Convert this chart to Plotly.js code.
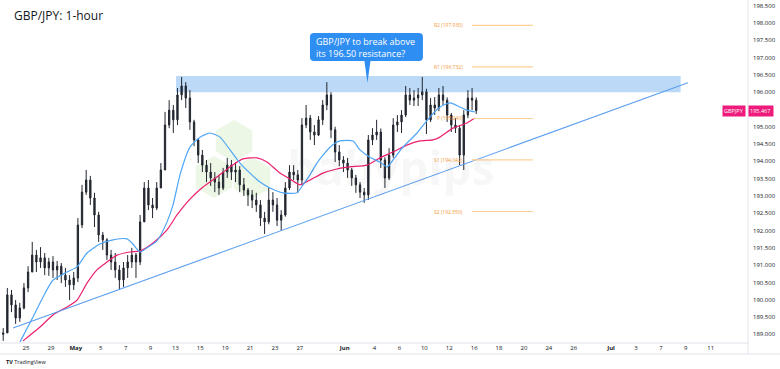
<!DOCTYPE html>
<html>
<head>
<meta charset="utf-8">
<script src="https://cdn.plot.ly/plotly-3.0.1.min.js"></script>
<style>
html,body{margin:0;padding:0;background:#fff;}
#chart{width:780px;height:369px;}
</style>
</head>
<body>
<div id="chart"></div>
<script>
// ---- DATA (GBP/JPY, 8-hour slices of the 1-hour chart) ----
// x axis: trading-day index (0 = Apr 25), weekends removed
const candleStartDay = -2;      // first candle starts on Apr 23
const candlesPerDay = 3;
const firstOpen = 189.00;
const closes = [189.04,190.14,189.85,189.47,189.76,190.34,190.80,191.29,191.09,191.21,
190.92,191.09,190.86,190.97,190.71,190.57,190.43,190.63,192.16,193.11,
193.46,192.94,192.45,191.87,191.73,191.29,191.09,190.86,190.57,190.92,
191.09,191.29,191.09,192.25,193.23,192.74,192.65,193.23,193.75,195.05,
195.48,195.20,195.92,196.18,195.83,195.14,194.62,194.18,193.89,193.69,
193.52,193.40,193.23,193.69,193.89,193.69,193.75,193.32,193.17,193.03,
192.88,192.74,192.36,192.25,192.88,192.74,192.30,192.45,193.23,193.69,
193.61,193.46,195.05,195.25,194.85,194.76,195.20,195.63,195.92,194.91,
194.27,194.04,193.95,193.75,193.52,193.32,193.11,193.03,194.62,194.76,
194.85,194.04,193.52,194.18,195.05,195.14,195.34,195.92,195.77,195.83,
195.92,196.01,195.20,195.63,195.54,195.92,195.77,195.34,195.05,194.96,
194.18,195.34,195.83,195.77,195.467];
const highs = [189.18,190.34,190.28,189.99,189.91,190.48,190.97,191.67,191.44,191.52,
191.35,191.21,191.26,191.12,191.06,190.92,190.71,190.80,192.36,193.32,
193.75,193.58,193.09,192.54,191.96,191.78,191.44,191.35,191.00,191.09,
191.29,191.50,191.35,192.45,193.40,193.46,192.94,193.40,193.95,195.43,
195.77,195.63,196.12,196.44,196.29,196.06,195.20,194.67,194.33,194.04,
193.95,193.69,193.61,193.81,194.10,194.04,193.98,193.86,193.52,193.23,
193.17,193.09,192.88,192.54,193.23,193.11,192.94,192.59,193.40,193.89,
193.89,193.75,195.25,195.63,195.34,195.05,195.31,195.77,196.29,196.00,
195.00,194.47,194.15,194.10,193.81,193.61,193.40,193.23,194.76,194.96,
195.20,194.95,194.12,194.38,195.25,195.34,195.48,196.18,196.12,196.06,
196.12,196.44,196.10,195.83,195.86,196.12,196.18,195.85,195.40,195.25,
195.05,195.48,196.06,196.12,195.85];
const lows = [188.81,189.04,189.64,189.30,189.36,189.72,190.22,190.80,190.80,190.92,
190.71,190.69,190.63,190.57,190.48,190.37,189.99,190.28,190.51,192.07,
193.03,192.74,192.10,191.67,191.44,191.15,190.86,190.63,190.28,190.37,
190.63,190.92,190.63,191.00,192.25,192.59,192.36,192.59,193.23,193.75,
194.96,194.82,195.05,195.77,195.54,194.91,194.44,193.95,193.69,193.40,
193.29,193.11,193.03,193.17,193.52,193.46,193.40,193.11,193.00,192.71,
192.65,192.54,192.13,191.90,192.18,192.54,192.13,191.99,192.40,193.17,
193.46,193.09,193.32,194.96,194.62,194.47,194.73,195.05,195.48,194.67,
193.98,193.86,193.69,193.52,193.29,193.09,192.94,192.80,192.88,194.47,
194.62,193.81,193.23,193.46,194.10,194.85,194.82,195.28,195.63,195.60,
195.60,195.77,194.79,195.14,195.34,195.45,195.63,195.14,194.85,194.82,
193.89,193.75,195.25,195.48,195.37];

// blue moving average (day, value)
const maFastDays = [-0.48,0.56,1.37,2.17,3.29,4.10,4.90,5.94,6.99,8.11,8.51,9.16,9.72,10.52,11.33,11.81,12.37,13.17,13.98,14.78,15.58,16.39,17.19,17.99,18.80,19.60,20.64,21.77,22.25,22.81,23.37,23.86,24.42,25.22,26.27,26.83,27.63,28.43,29.00,29.48,30.28,31.41,32.45,33.25,34.06,34.86,35.42,36.06];
const maFastVals = [188.78,189.50,190.08,190.57,190.80,190.95,191.35,191.61,191.73,191.76,191.64,191.38,191.50,191.70,192.25,192.74,193.61,194.41,194.70,194.82,194.70,194.33,193.95,193.66,193.40,193.23,193.09,193.09,193.32,193.61,193.95,194.18,194.41,194.59,194.59,194.33,194.12,193.98,193.84,194.04,194.41,194.82,195.28,195.57,195.69,195.57,195.48,195.43];
// pink moving average (day, value)
const maSlowDays = [-0.24,1.12,2.17,3.29,4.10,4.90,5.70,6.51,7.31,8.35,9.16,10.20,11.33,12.13,13.17,14.22,15.34,16.39,17.43,18.55,19.36,20.40,21.20,22.01,22.81,23.86,24.98,26.02,27.39,28.43,29.48,30.60,31.65,32.69,33.25,34.30,35.42,36.06];
const maSlowVals = [188.81,189.21,189.56,189.79,189.99,190.48,190.86,191.09,191.29,191.38,191.41,191.64,192.02,192.45,192.91,193.26,193.55,193.84,194.07,194.10,193.98,193.66,193.49,193.32,193.46,193.66,193.78,193.84,193.89,194.10,194.27,194.47,194.59,194.62,194.70,194.96,195.11,195.25];

// rising trendline (day, value)
const trendDays = [-1.04, 53.17];
const trendVals = [189.18, 196.27];
// resistance zone
const zoneDays = [12.05, 52.59];
const zoneVals = [196.00, 196.47];
// pivot levels
const pivotNames = ['R2','R1','P','S1','S2'];
const pivotVals = [197.930, 196.732, 195.240, 194.042, 192.550];
const pivotDays = [35.82, 40.72];

const lastPrice = 195.467;
const symbol = 'GBPJPY';

// axis ticks
const xTickDays = [0,2,4,6,8,10,12,14,16,18,20,22,25.6,28,30,32,34,36,38,40,42,44,47,49,51,53,55];
const xTickText = ['25','29','<b>May</b>','5','7','9','13','15','19','21','23','27','<b>Jun</b>','4','6','10','12','16','18','20','24','26','<b>Jul</b>','3','7','9','11'];
const yTickVals = [189,189.5,190,190.5,191,191.5,192,192.5,193,193.5,194,194.5,195,196,196.5,197,197.5,198,198.5];

// ---- BUILD ----
const n = closes.length;
const xs = [], opens = [];
for (let k = 0; k < n; k++) {
  xs.push(candleStartDay + k / candlesPerDay + 0.5 / candlesPerDay);
  opens.push(k === 0 ? firstOpen : closes[k - 1]);
}
const ink = '#22262f';
const FONT = 'Open Sans, Noto Sans, sans-serif';

const traces = [
  {type:'candlestick', x:xs, open:opens, high:highs, low:lows, close:closes,
   increasing:{line:{color:ink,width:1}, fillcolor:ink},
   decreasing:{line:{color:ink,width:1}, fillcolor:ink},
   whiskerwidth:0, hoverinfo:'skip', showlegend:false},
  {type:'scatter', mode:'lines', x:maSlowDays, y:maSlowVals, line:{color:'#ec1f6e',width:1.2,shape:'spline',smoothing:0.6}, hoverinfo:'skip', showlegend:false},
  {type:'scatter', mode:'lines', x:maFastDays, y:maFastVals, line:{color:'#4ea6f6',width:1.2,shape:'spline',smoothing:0.6}, hoverinfo:'skip', showlegend:false},
  {type:'scatter', mode:'lines', x:trendDays, y:trendVals, line:{color:'#5a9ef0',width:1.1}, hoverinfo:'skip', showlegend:false}
];

const shapes = [];
// resistance zone
shapes.push({type:'rect', xref:'x', yref:'y', x0:zoneDays[0], x1:zoneDays[1], y0:zoneVals[0], y1:zoneVals[1],
  fillcolor:'#bcdaf8', line:{width:0}, layer:'below'});
// watermark hexagons
const hex = 'M 0 21 L 18.2 10.5 L 18.2 -10.5 L 0 -21 L -18.2 -10.5 L -18.2 10.5 Z';
[[16.71,194.59],[15.10,193.55],[18.15,193.52]].forEach(function(c){
  shapes.push({type:'path', xref:'x', yref:'y', xsizemode:'pixel', ysizemode:'pixel', xanchor:c[0], yanchor:c[1],
    path:hex, fillcolor:'rgba(130,200,90,0.15)', line:{width:0}, layer:'below'});
});
// pivot lines
pivotVals.forEach(function(v){
  shapes.push({type:'line', xref:'x', yref:'y', x0:pivotDays[0], x1:pivotDays[1], y0:v, y1:v,
    line:{color:'#ffcf99', width:1.1}});
});
// callout bubble (pixels relative to its tip)
shapes.push({type:'path', xref:'x', yref:'y', xsizemode:'pixel', ysizemode:'pixel', xanchor:27.43, yanchor:196.265,
  path:'M 0 0 L -3 22 L -53.5 22 Q -57.5 22 -57.5 26 L -57.5 46 Q -57.5 50 -53.5 50 L 51.5 50 Q 55.5 50 55.5 46 L 55.5 26 Q 55.5 22 51.5 22 L 3 22 Z',
  fillcolor:'#2f8ef2', line:{width:0}});
// axis frame lines
shapes.push({type:'line', xref:'paper', yref:'paper', x0:0, x1:780/748, y0:-11/343, y1:-11/343, line:{color:'#e0e3eb',width:1}});
shapes.push({type:'line', xref:'paper', yref:'paper', x0:1, x1:1, y0:-11/343, y1:1, line:{color:'#e0e3eb',width:1}});
shapes.push({type:'line', xref:'paper', yref:'paper', x0:0, x1:1, y0:0, y1:0, line:{color:'#e0e3eb',width:1}});

const annotations = [];
annotations.push({xref:'paper', yref:'paper', x:12/748, y:1-15/343, xanchor:'left', yanchor:'middle',
  text:'GBP/JPY: 1-hour', showarrow:false, font:{family:FONT, size:12, color:'#131722'}});
// watermark text
annotations.push({xref:'x', yref:'y', x:29.3, y:193.85, xanchor:'center', yanchor:'middle', text:'<b>babypips</b>',
  showarrow:false, font:{family:FONT, size:46, color:'rgba(0,0,0,0.055)'}});
// callout text
annotations.push({xref:'x', yref:'y', x:23.13, y:197.29, xanchor:'left', yanchor:'middle', align:'left',
  text:'GBP/JPY to break above<br>its 196.50 resistance?',
  showarrow:false, font:{family:FONT, size:9, color:'#ffffff'}});
// pivot labels
pivotVals.forEach(function(v,i){
  annotations.push({xref:'x', yref:'y', x:35.26, y:v, xanchor:'right', yanchor:'middle',
    text:pivotNames[i] + ' (' + v.toFixed(3) + ')', showarrow:false, font:{family:FONT, size:5, color:'#f39a3a'}});
});
// last price labels
annotations.push({xref:'paper', yref:'y', x:746/748, y:lastPrice, xanchor:'right', yanchor:'middle', text:symbol,
  showarrow:false, bgcolor:'#ee1a7c', borderpad:1, font:{family:FONT, size:5.5, color:'#ffffff'}});
annotations.push({xref:'paper', yref:'y', x:1, y:lastPrice, xanchor:'left', yanchor:'middle', text:lastPrice.toFixed(3)+' ',
  showarrow:false, bgcolor:'#ee1a7c', borderpad:1, font:{family:FONT, size:5.5, color:'#ffffff'}});
// TradingView mark
annotations.push({xref:'paper', yref:'paper', x:4/748, y:-19/343, xanchor:'left', yanchor:'middle', text:'<b>TV</b> TradingView',
  showarrow:false, font:{family:FONT, size:5.5, color:'#131722'}});

const layout = {
  width:780, height:369,
  margin:{l:0, r:32, t:0, b:26, pad:0},
  paper_bgcolor:'#ffffff', plot_bgcolor:'#ffffff',
  showlegend:false, hovermode:false, boxgap:0.55,
  xaxis:{range:[-2.09, 58.0], tickmode:'array', tickvals:xTickDays, ticktext:xTickText,
    showgrid:false, zeroline:false, showline:false, ticks:'', rangeslider:{visible:false},
    tickfont:{family:FONT, size:6, color:'#131722'}, fixedrange:true},
  yaxis:{range:[188.748, 198.665], side:'right', tickmode:'array', tickvals:yTickVals, tickformat:'.3f',
    showgrid:false, zeroline:false, showline:false, ticks:'', ticklabelstandoff:4,
    tickfont:{family:FONT, size:6, color:'#131722'}, fixedrange:true},
  shapes:shapes, annotations:annotations
};

Plotly.newPlot('chart', traces, layout, {staticPlot:true, displayModeBar:false});
</script>
</body>
</html>
